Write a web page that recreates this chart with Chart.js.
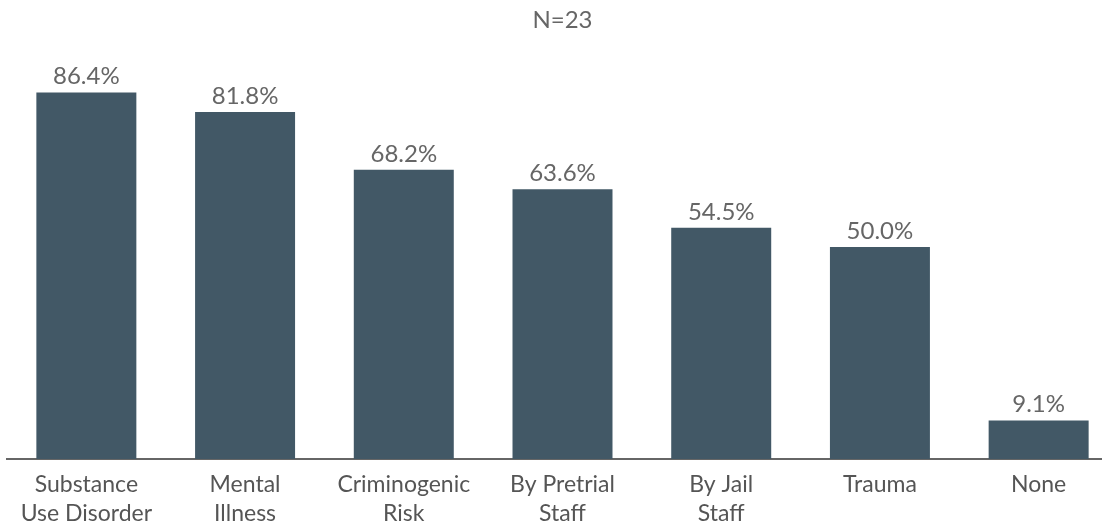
<!DOCTYPE html>
<html>
<head>
<meta charset="utf-8">
<script src="https://cdn.jsdelivr.net/npm/chart.js@4"></script>
<style>
    html, body { margin: 0; padding: 0; background: #fff; overflow: hidden; }
    #wrap { width: 1118px; height: 527px; }
</style>
</head>
<body>
<div id="wrap"><canvas id="needsChart" width="1118" height="527"></canvas></div>
<script>
// Categories (two-line labels) and percentages
const categories = [
    ["Substance", "Use Disorder"],
    ["Mental", "Illness"],
    ["Criminogenic", "Risk"],
    ["By Pretrial", "Staff"],
    ["By Jail", "Staff"],
    ["Trauma"],
    ["None"]
];
const percentValues = [86.4, 81.8, 68.2, 63.6, 54.5, 50.0, 9.1];
const chartTitle = "N=23";

const fontFamily = "Lato, 'Open Sans', sans-serif";

// Draws the percentage above each bar
const barValueLabels = {
    id: 'barValueLabels',
    afterDatasetsDraw(chart) {
        const ctx = chart.ctx;
        const meta = chart.getDatasetMeta(0);
        ctx.save();
        ctx.font = "24px " + fontFamily;
        ctx.fillStyle = "#666666";
        ctx.textAlign = "center";
        ctx.textBaseline = "alphabetic";
        meta.data.forEach((bar, i) => {
            const v = chart.data.datasets[0].data[i];
            ctx.fillText(v.toFixed(1) + "%", bar.x, bar.y - 8);
        });
        ctx.restore();
    }
};

function initChart() {
    const ctx = document.getElementById('needsChart').getContext('2d');
    return new Chart(ctx, {
        type: 'bar',
        data: {
            labels: categories,
            datasets: [{
                data: percentValues,
                backgroundColor: "#425866",
                barPercentage: 0.63,
                categoryPercentage: 1.0
            }]
        },
        options: {
            responsive: false,
            animation: false,
            layout: { padding: { left: 7, right: 0, top: 0, bottom: 0 } },
            plugins: {
                legend: { display: false },
                tooltip: { enabled: false },
                title: {
                    display: true,
                    text: chartTitle,
                    color: "#666666",
                    font: { family: fontFamily, size: 24, weight: 'normal' },
                    padding: { top: 6, bottom: 0 }
                }
            },
            scales: {
                x: {
                    grid: { display: false },
                    border: { display: true, color: "#666666", width: 2 },
                    ticks: {
                        color: "#555555",
                        maxRotation: 0,
                        autoSkip: false,
                        padding: 3,
                        font: { family: fontFamily, size: 23, lineHeight: 1.25 }
                    },
                    // fixed band for the two-line category labels
                    afterFit(scale) {
                        scale.height = 68;
                    }
                },
                y: {
                    display: false,
                    min: 0,
                    max: 100
                }
            }
        },
        plugins: [barValueLabels]
    });
}

document.addEventListener('DOMContentLoaded', initChart);
</script>
</body>
</html>
